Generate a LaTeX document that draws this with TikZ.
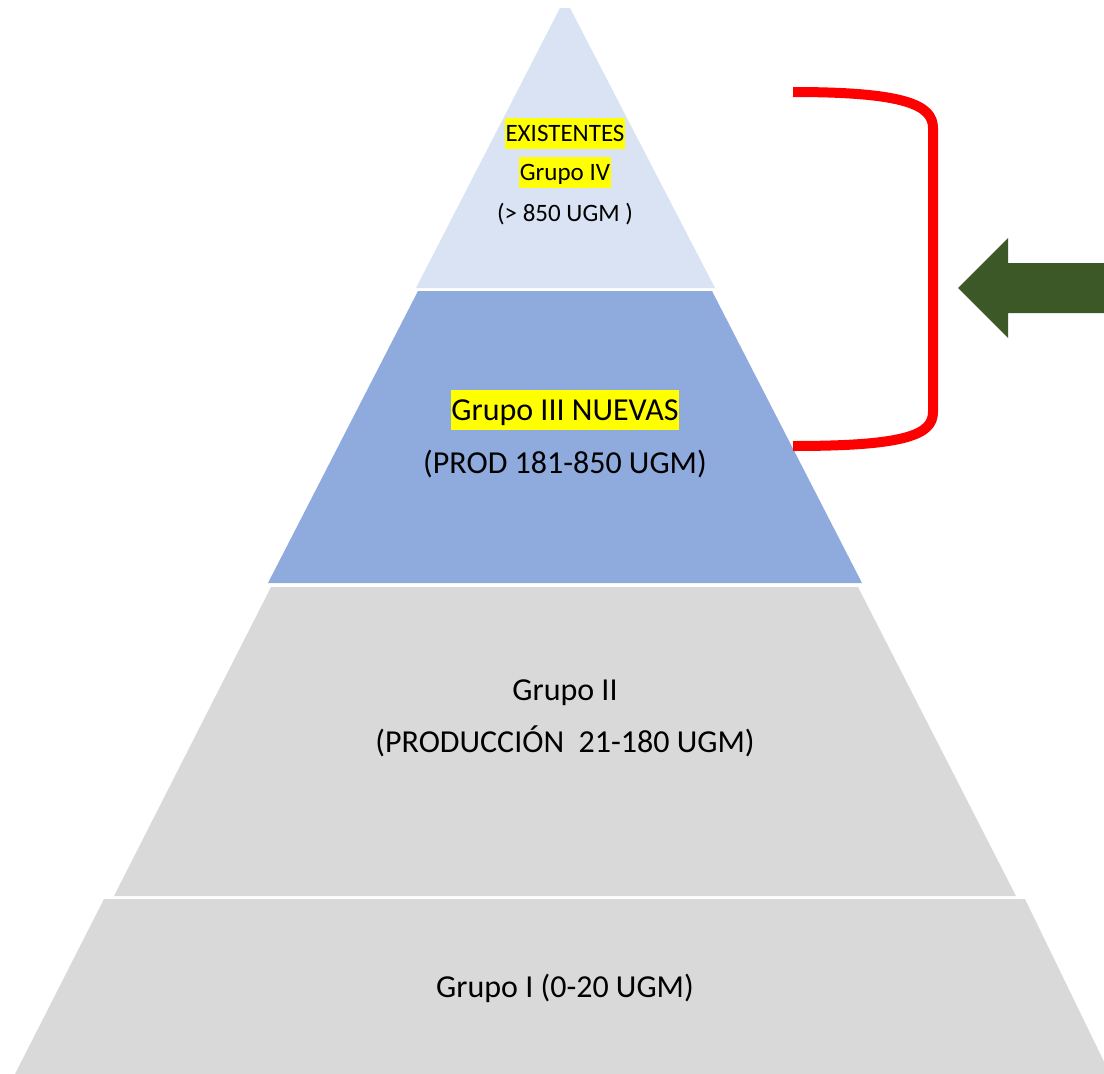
\documentclass[tikz,border=0pt]{standalone}
\usepackage{fontspec}
\setmainfont{Carlito}
\definecolor{tiertop}{HTML}{DAE3F3}
\definecolor{tierblue}{HTML}{8FAADC}
\definecolor{tiergray}{HTML}{D9D9D9}
\definecolor{arrowgreen}{HTML}{3B5826}
\definecolor{hlyellow}{HTML}{FFFF00}
\begin{document}
\begin{tikzpicture}[x=1pt,y=-1pt,
  lbl/.style={inner sep=0pt, text height=30.4pt, text depth=9.6pt, font=\fontsize{32}{36}\selectfont},
  lblsmall/.style={inner sep=0pt, text height=23.6pt, text depth=7.4pt, font=\fontsize{25}{30}\selectfont},
  hl/.style={fill=hlyellow, inner xsep=0.5pt}]
\useasboundingbox (0,0) rectangle (1104,1074);
\clip (0,0) rectangle (1104,1074);
% tiers
\fill[tiertop] (560,8) -- (570,8) -- (715,288) -- (416,288) -- cycle;
\fill[tierblue] (418,291) -- (712,291) -- (862,583) -- (268,583) -- cycle;
\fill[tiergray] (271,587) -- (858,587) -- (1016,896) -- (114,896) -- cycle;
\fill[tiergray] (104,899) -- (1025,899) -- (1110,1074) -- (15,1074) -- cycle;
% texts
\node[lblsmall,hl] (t4a) at (565,133) {EXISTENTES};
\node[lblsmall,hl] (t4b) at (565,172) {Grupo IV};
\node[lblsmall] (t4c) at (565,213) {(> 850 UGM )};
\node[lbl,hl] (t3a) at (565,410) {Grupo III NUEVAS};
\node[lbl] (t3b) at (565,463) {(PROD 181-850 UGM)};
\node[lbl] (t2a) at (565,690) {Grupo II};
\node[lbl] (t2b) at (565,742) {(PRODUCCIÓN\ \ 21-180 UGM)};
\node[lbl] (t1) at (565,987) {Grupo I (0-20 UGM)};
% bracket
\draw[red, line width=10pt, line cap=butt]
  (793,92) .. controls (905,92) and (933,105) .. (933,128)
  -- (933,412) .. controls (933,435) and (905,446) .. (793,446);
% arrow
\fill[arrowgreen] (958,288) -- (1008,238) -- (1008,263) -- (1110,263)
  -- (1110,313) -- (1008,313) -- (1008,338) -- cycle;
\end{tikzpicture}
\end{document}
